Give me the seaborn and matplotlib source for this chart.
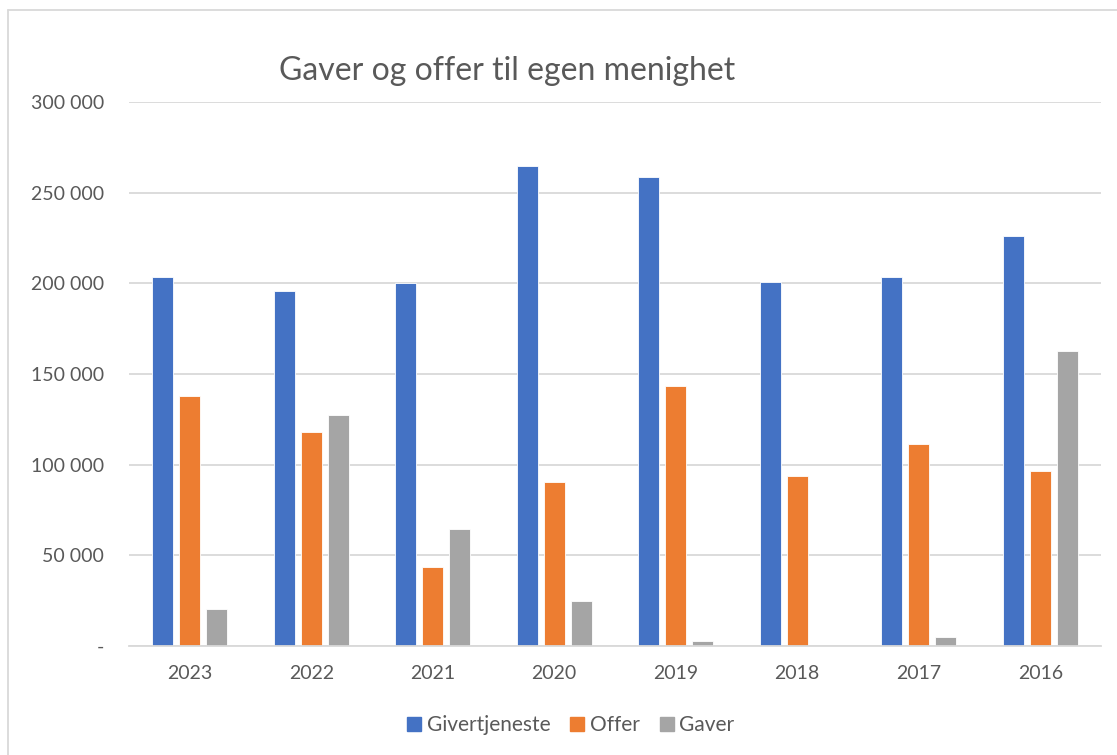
import pandas as pd
import matplotlib.pyplot as plt
import seaborn as sns
from matplotlib.ticker import FuncFormatter
from matplotlib.lines import Line2D

# Data
years = ['2023', '2022', '2021', '2020', '2019', '2018', '2017', '2016']
givertjeneste = [203500, 195800, 200300, 264900, 258700, 200900, 203300, 225900]
offer = [137800, 118100, 43600, 90700, 143200, 94000, 111300, 96400]
gaver = [20300, 127300, 64600, 24800, 2800, 0, 4800, 162500]
series = ['Givertjeneste', 'Offer', 'Gaver']
colors = ['#4472C4', '#ED7D31', '#A5A5A5']

df = pd.DataFrame({'år': years, 'Givertjeneste': givertjeneste, 'Offer': offer, 'Gaver': gaver})
df = df.melt(id_vars='år', var_name='serie', value_name='beløp')

sns.set_style('white')
plt.rcParams['font.family'] = ['Lato', 'DejaVu Sans']
textcol = '#595959'
gridcol = '#D9D9D9'

fig = plt.figure(figsize=(11.17, 7.55), dpi=100)
ax = fig.add_axes([129 / 1117, 1 - 646 / 755, (1101 - 129) / 1117, (646 - 102) / 755])

sns.barplot(data=df, x='år', y='beløp', hue='serie', order=years, hue_order=series,
            palette=colors, width=0.67, gap=0.22, edgecolor='white', linewidth=0.6,
            saturation=1, ax=ax)

ax.set_ylim(0, 300000)
ax.set_yticks(range(0, 300001, 50000))
ax.yaxis.set_major_formatter(FuncFormatter(lambda v, p: '-' if v == 0 else f'{int(v):,}'.replace(',', ' ')))
ax.grid(axis='y', color=gridcol, linewidth=1.3)
ax.set_axisbelow(True)
for s in ['top', 'right', 'left']:
    ax.spines[s].set_visible(False)
ax.spines['bottom'].set_color(gridcol)
ax.spines['bottom'].set_linewidth(1.3)
ax.set_xlabel('')
ax.set_ylabel('')
ax.tick_params(axis='both', length=0, labelsize=14, labelcolor=textcol)
ax.tick_params(axis='y', pad=18)
ax.tick_params(axis='x', pad=14)

# Title
fig.text(279 / 1117, 1 - 71 / 755, 'Gaver og offer til egen menighet', fontsize=23,
         color=textcol, ha='left', va='center')

# Legend at the bottom
ax.get_legend().remove()
handles = [Line2D([0], [0], marker='s', linestyle='', markersize=10, markerfacecolor=c,
                  markeredgecolor=c) for c in colors]
fig.legend(handles, series, loc='center', bbox_to_anchor=(570 / 1117, 1 - 725 / 755), ncol=3,
           frameon=False, fontsize=15, labelcolor=textcol, handlelength=0.8,
           handletextpad=0.2, columnspacing=0.9)

# Chart border
fig.add_artist(Line2D([8 / 1117, 8 / 1117], [0, 1 - 10 / 755], transform=fig.transFigure,
                      color=gridcol, linewidth=1.3))
fig.add_artist(Line2D([8 / 1117, 1], [1 - 10 / 755, 1 - 10 / 755], transform=fig.transFigure,
                      color=gridcol, linewidth=1.3))

plt.savefig('out.png', dpi=100)
